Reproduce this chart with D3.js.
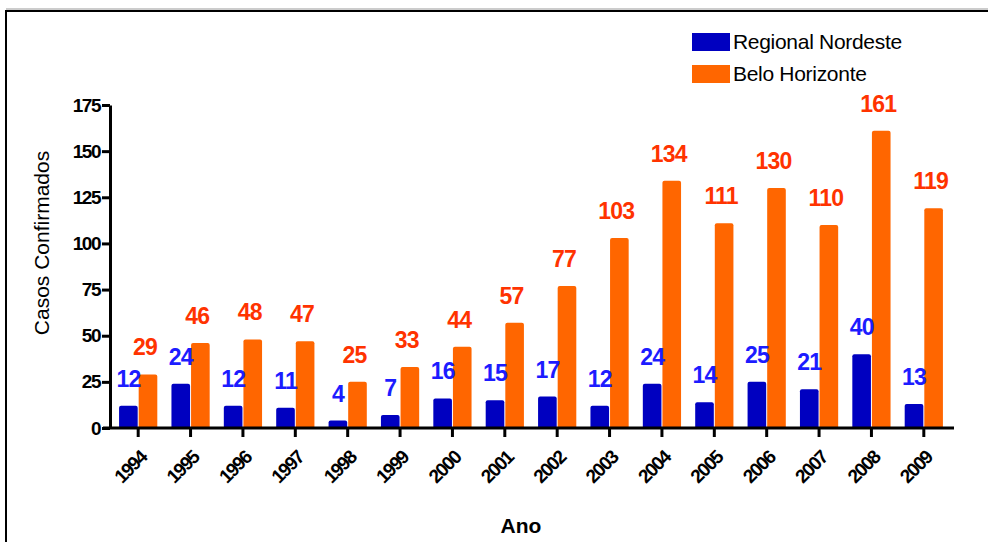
<!DOCTYPE html>
<html>
<head>
<meta charset="utf-8">
<script src="https://cdn.jsdelivr.net/npm/d3@7"></script>
<style>
  body { margin: 0; background: #fff; }
  svg { font-family: "Liberation Sans", Arial, sans-serif; }
</style>
</head>
<body>
<script>
// data
const years = ['1994', '1995', '1996', '1997', '1998', '1999', '2000', '2001',
  '2002', '2003', '2004', '2005', '2006', '2007', '2008', '2009'];
const regional = [12, 24, 12, 11, 4, 7, 16, 15, 17, 12, 24, 14, 25, 21, 40, 13];
const belo = [29, 46, 48, 47, 25, 33, 44, 57, 77, 103, 134, 111, 130, 110, 161, 119];
const seriesNames = ['Regional Nordeste', 'Belo Horizonte'];
const yTicks = [0, 25, 50, 75, 100, 125, 150, 175];

const barColors = ['#0000c0', '#ff6600'];
const labelColors = ['#1c1cff', '#ff3300'];

const width = 988, height = 542;

const svg = d3.select('body').append('svg')
  .attr('width', width)
  .attr('height', height);

// frame (open on right / bottom)
svg.append('line').attr('x1', 6).attr('x2', width).attr('y1', 9).attr('y2', 9)
  .attr('stroke', '#999').attr('stroke-width', 1);
svg.append('line').attr('x1', 6).attr('x2', width).attr('y1', 11).attr('y2', 11)
  .attr('stroke', '#000').attr('stroke-width', 2);
svg.append('line').attr('x1', 6).attr('x2', 6).attr('y1', 10).attr('y2', height)
  .attr('stroke', '#000').attr('stroke-width', 2);

// scales
const x = d3.scaleBand()
  .domain(years)
  .range([112, 950])
  .paddingInner(0.27)
  .paddingOuter(0.135);
const xs = d3.scaleBand()
  .domain([0, 1])
  .range([0, x.bandwidth()])
  .paddingInner(0.05);
const y = d3.scaleLinear()
  .domain([0, 175])
  .range([428, 105]);

const rows = years.map((yr, i) => ({ year: yr, values: [regional[i], belo[i]] }));

// bars
const groups = svg.selectAll('.grp')
  .data(rows)
  .enter().append('g')
  .attr('class', 'grp')
  .attr('transform', d => `translate(${x(d.year)},0)`);

groups.selectAll('path')
  .data(d => d.values.map((v, k) => ({ v, k })))
  .enter().append('path')
  .attr('fill', d => barColors[d.k])
  .attr('d', d => {
    const x0 = xs(d.k), w = xs.bandwidth(), y0 = y(d.v), y1 = y(0), r = 2;
    return `M${x0},${y1}V${y0 + r}Q${x0},${y0} ${x0 + r},${y0}H${x0 + w - r}` +
      `Q${x0 + w},${y0} ${x0 + w},${y0 + r}V${y1}Z`;
  });

// value labels
groups.selectAll('text')
  .data(d => d.values.map((v, k) => ({ v, k })))
  .enter().append('text')
  .attr('x', d => xs(d.k) + xs.bandwidth() / 2 - (d.k === 1 ? 3 : 0))
  .attr('y', d => y(d.v) - 19)
  .attr('text-anchor', 'middle')
  .attr('fill', d => labelColors[d.k])
  .style('font-size', '23px')
  .style('font-weight', 'bold')
  .style('letter-spacing', '-0.8px')
  .text(d => d.v);

// y axis
const yAxis = svg.append('g')
  .attr('transform', 'translate(110,0)')
  .call(d3.axisLeft(y).tickValues(yTicks).tickSize(8).tickPadding(2).tickSizeOuter(0));
yAxis.select('.domain').attr('stroke-width', 3);
yAxis.selectAll('.tick line').attr('stroke-width', 3);
yAxis.selectAll('.tick text')
  .style('font-size', '19px')
  .style('font-weight', 'bold')
  .style('letter-spacing', '-1.5px')
  .attr('fill', '#000');

// x axis
const xAxis = svg.append('g')
  .attr('transform', 'translate(0,428)')
  .call(d3.axisBottom(x).tickSize(9).tickSizeOuter(0));
xAxis.select('.domain').remove();
xAxis.append('line')
  .attr('x1', 103).attr('x2', 954)
  .attr('stroke', '#000').attr('stroke-width', 3);
xAxis.selectAll('.tick line').attr('stroke-width', 3);
xAxis.selectAll('.tick text')
  .attr('text-anchor', 'end')
  .attr('transform', 'translate(5,26) rotate(-45)')
  .attr('dy', '0.35em')
  .attr('y', 0)
  .attr('x', 0)
  .style('font-size', '19px')
  .style('font-weight', 'bold')
  .style('letter-spacing', '-1.5px')
  .attr('fill', '#000');

// axis titles
svg.append('text')
  .attr('transform', 'translate(49,243) rotate(-90)')
  .attr('text-anchor', 'middle')
  .style('font-size', '21px')
  .text('Casos Confirmados');

svg.append('text')
  .attr('x', 521)
  .attr('y', 533)
  .attr('text-anchor', 'middle')
  .style('font-size', '21px')
  .style('font-weight', 'bold')
  .text('Ano');

// legend
const legend = svg.append('g').attr('transform', 'translate(692,33)');
seriesNames.forEach((name, i) => {
  legend.append('rect')
    .attr('x', 0).attr('y', i * 32)
    .attr('width', 38).attr('height', 18)
    .attr('fill', barColors[i]);
  legend.append('text')
    .attr('x', 41).attr('y', i * 32 + 16)
    .style('font-size', '21px')
    .style('letter-spacing', '-0.3px')
    .text(name);
});
</script>
</body>
</html>
